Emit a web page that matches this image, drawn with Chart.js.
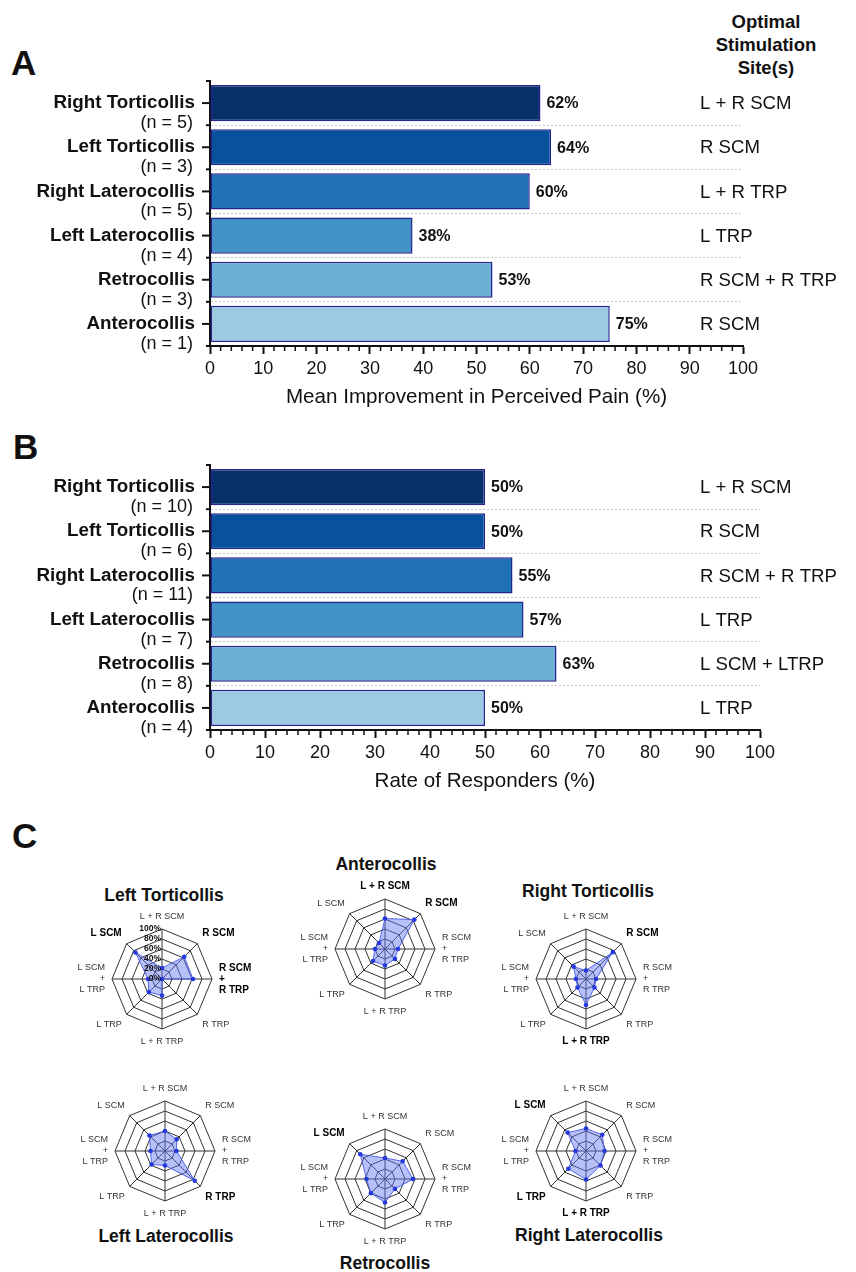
<!DOCTYPE html>
<html>
<head>
<meta charset="utf-8">
<script src="https://cdn.jsdelivr.net/npm/chart.js@4.4.0/dist/chart.umd.min.js"></script>
<style>
  body { margin: 0; background: #fff; font-family: "Liberation Sans", Arial, sans-serif; }
  #page { position: relative; width: 856px; height: 1272px; overflow: hidden; background: #fff; color: #111; }
  .abs { position: absolute; }
  .panel { font-weight: bold; font-size: 35px; line-height: 35px; }
  .head { font-weight: bold; font-size: 18.5px; line-height: 23px; text-align: center; width: 200px; }
  .rtitle { font-weight: bold; font-size: 17.5px; white-space: nowrap; transform: translate(-50%, -50%); }
</style>
</head>
<body>
<div id="page">
  <div class="abs panel" style="left:11px;top:45px">A</div>
  <div class="abs panel" style="left:13px;top:429px">B</div>
  <div class="abs panel" style="left:12px;top:818px">C</div>
  <div class="abs head" style="left:666px;top:10px">Optimal<br>Stimulation<br>Site(s)</div>
  <canvas id="painChart" class="abs" width="856" height="420" style="left:0;top:0"></canvas>
  <canvas id="respChart" class="abs" width="856" height="420" style="left:0;top:384px"></canvas>
</div>
<script>
// ---- data ----
const groupNames = ['Right Torticollis', 'Left Torticollis', 'Right Laterocollis', 'Left Laterocollis', 'Retrocollis', 'Anterocollis'];
const painN = [5, 3, 5, 4, 3, 1];
const painValues = [62, 64, 60, 38, 53, 75];
const painSites = ['L + R SCM', 'R SCM', 'L + R TRP', 'L TRP', 'R SCM + R TRP', 'R SCM'];
const respN = [10, 6, 11, 7, 8, 4];
const respValues = [50, 50, 55, 57, 63, 50];
const respSites = ['L + R SCM', 'R SCM', 'R SCM + R TRP', 'L TRP', 'L SCM + LTRP', 'L TRP'];
const barColors = ['#08306b', '#08519c', '#2171b5', '#4292c6', '#6baed6', '#9ecae1'];
const xMajorStep = 10;
const xMinorStep = 2;

// radar axes, clockwise from the top
const siteAxes = ['L + R SCM', 'R SCM', ['R SCM', '+', 'R TRP'], 'R TRP', 'L + R TRP', 'L TRP', ['L SCM', '+', 'L TRP'], 'L SCM'];
const radarTicks = [0, 20, 40, 60, 80, 100];
const leftTortValues = [22, 63, 62, 0, 33, 37, 28, 75];
const anteroValues = [61, 83, 26, 28, 33, 34, 20, 17];
const rightTortValues = [17, 76, 20, 24, 52, 24, 20, 35];
const leftLateroValues = [40, 33, 23, 84, 29, 38, 29, 44];
const retroValues = [42, 50, 56, 28, 47, 40, 37, 70];
const rightLateroValues = [45, 46, 37, 41, 57, 50, 21, 52];
// which axis labels are printed in bold
const leftTortBold = [1, 2, 7];
const anteroBold = [0, 1];
const rightTortBold = [1, 4];
const leftLateroBold = [3];
const retroBold = [7];
const rightLateroBold = [4, 5, 7];

const FONT = '"Liberation Sans", Arial, sans-serif';
Chart.defaults.font.family = FONT;
Chart.defaults.color = '#111';

function makeBarChart(id, values, ns, sites, axisTitle, rightPad) {
  const decor = {
    id: 'decor_' + id,
    afterDatasetsDraw(chart) {
      const { ctx, scales: { x, y } } = chart;
      const half = (y.getPixelForValue(1) - y.getPixelForValue(0)) / 2;
      const axisX = x.left;
      ctx.save();
      ctx.strokeStyle = '#111';
      ctx.fillStyle = '#111';
      ctx.lineWidth = 2;
      // value labels next to bars
      ctx.font = 'bold 16px ' + FONT;
      ctx.textBaseline = 'middle';
      ctx.textAlign = 'left';
      chart.getDatasetMeta(0).data.forEach((bar, i) => {
        ctx.fillText(values[i] + '%', bar.x + 6, bar.y + 1);
      });
      groupNames.forEach((name, i) => {
        const yc = y.getPixelForValue(i);
        // major tick at band centre
        ctx.beginPath();
        ctx.moveTo(axisX - 8, yc);
        ctx.lineTo(axisX, yc);
        ctx.stroke();
        ctx.textAlign = 'right';
        ctx.font = 'bold 18.8px ' + FONT;
        ctx.fillText(name, axisX - 15, yc);
        ctx.font = '18px ' + FONT;
        ctx.fillText('(n = ' + ns[i] + ')', axisX - 17, yc + 20);
        ctx.textAlign = 'left';
        ctx.font = '18.6px ' + FONT;
        ctx.fillText(sites[i], 700, yc + 1);
      });
      // minor ticks at band edges
      for (let i = 0; i <= groupNames.length; i++) {
        const yb = y.getPixelForValue(0) - half + 2 * half * i;
        ctx.beginPath();
        ctx.moveTo(axisX - 4, yb);
        ctx.lineTo(axisX, yb);
        ctx.stroke();
      }
      // minor ticks on x axis
      ctx.lineWidth = 1.5;
      for (let v = 0; v <= 100; v += xMinorStep) {
        if (v % xMajorStep === 0) continue;
        const px = x.getPixelForValue(v);
        ctx.beginPath();
        ctx.moveTo(px, x.top);
        ctx.lineTo(px, x.top + 5);
        ctx.stroke();
      }
      ctx.restore();
    }
  };

  return new Chart(document.getElementById(id), {
    type: 'bar',
    data: {
      labels: groupNames,
      datasets: [{
        data: values,
        backgroundColor: barColors,
        borderColor: '#24248e',
        borderWidth: 1.5,
        borderSkipped: false,
        barPercentage: 0.82,
        categoryPercentage: 1
      }]
    },
    options: {
      indexAxis: 'y',
      responsive: false,
      animation: false,
      layout: { padding: { left: 210, right: rightPad, top: 81, bottom: 10 } },
      plugins: { legend: { display: false }, tooltip: { enabled: false } },
      scales: {
        x: {
          min: 0,
          max: 100,
          ticks: { stepSize: xMajorStep, padding: 4, color: '#111', font: { size: 18 } },
          grid: { display: true, drawOnChartArea: false, drawTicks: true, tickLength: 8, tickColor: '#111', tickWidth: 2 },
          border: { display: true, color: '#111', width: 2 },
          title: { display: true, text: axisTitle, color: '#111', font: { size: 20.6 }, padding: { top: 4, bottom: 0 } },
          afterFit: (s) => { s.height = 64; }
        },
        y: {
          ticks: { display: false },
          grid: {
            drawTicks: false,
            color: (c) => (c.index === 0 ? 'rgba(0,0,0,0)' : '#c9c9c9'),
            lineWidth: 1
          },
          border: { display: true, color: '#111', width: 2, dash: [2, 2] },
          afterFit: (s) => { s.width = 0; }
        }
      }
    },
    plugins: [decor]
  });
}

makeBarChart('painChart', painValues, painN, painSites, 'Mean Improvement in Perceived Pain (%)', 113);
makeBarChart('respChart', respValues, respN, respSites, 'Rate of Responders (%)', 96);

// ---- radar panels ----
const RADAR_W = 200;
const RADAR_H = 136;
const page = document.getElementById('page');

const radars = [
  { title: 'Left Torticollis', values: leftTortValues, bold: leftTortBold, cx: 165, cy: 979, tx: 164, ty: 895, ticks: true },
  { title: 'Anterocollis', values: anteroValues, bold: anteroBold, cx: 386, cy: 949, tx: 386, ty: 864 },
  { title: 'Right Torticollis', values: rightTortValues, bold: rightTortBold, cx: 587, cy: 979, tx: 588, ty: 891 },
  { title: 'Left Laterocollis', values: leftLateroValues, bold: leftLateroBold, cx: 166, cy: 1151, tx: 166, ty: 1236 },
  { title: 'Retrocollis', values: retroValues, bold: retroBold, cx: 386, cy: 1179, tx: 385, ty: 1263 },
  { title: 'Right Laterocollis', values: rightLateroValues, bold: rightLateroBold, cx: 587, cy: 1151, tx: 589, ty: 1235 }
];

const radarTickLabels = {
  id: 'radarTickLabels',
  afterDatasetsDraw(chart) {
    const s = chart.scales.r;
    const ctx = chart.ctx;
    ctx.save();
    ctx.font = 'bold 8.5px ' + FONT;
    ctx.fillStyle = '#111';
    ctx.textAlign = 'right';
    ctx.textBaseline = 'middle';
    radarTicks.forEach((v) => {
      ctx.fillText(v + '%', s.xCenter - 1, s.yCenter - s.getDistanceFromCenterForValue(v));
    });
    ctx.restore();
  }
};

radars.forEach((r) => {
  const c = document.createElement('canvas');
  c.width = RADAR_W;
  c.height = RADAR_H;
  c.className = 'abs';
  c.style.left = (r.cx - RADAR_W / 2) + 'px';
  c.style.top = (r.cy - RADAR_H / 2) + 'px';
  page.appendChild(c);

  const t = document.createElement('div');
  t.className = 'abs rtitle';
  t.style.left = r.tx + 'px';
  t.style.top = r.ty + 'px';
  t.textContent = r.title;
  page.appendChild(t);

  new Chart(c, {
    type: 'radar',
    data: {
      labels: siteAxes,
      datasets: [{
        data: r.values,
        backgroundColor: 'rgba(96, 116, 240, 0.45)',
        borderColor: 'rgba(70, 90, 235, 0.9)',
        borderWidth: 1,
        pointRadius: 2.3,
        pointBackgroundColor: '#2438dc',
        pointBorderWidth: 0
      }]
    },
    options: {
      responsive: false,
      animation: false,
      plugins: { legend: { display: false }, tooltip: { enabled: false } },
      scales: {
        r: {
          min: 0,
          max: 100,
          ticks: { stepSize: 20, display: false },
          grid: { color: '#333', lineWidth: 1 },
          angleLines: { color: '#333', lineWidth: 1 },
          pointLabels: {
            padding: 7,
            color: (ctx) => (r.bold.includes(ctx.index) ? '#000' : '#333'),
            font: (ctx) => ({
              size: r.bold.includes(ctx.index) ? 10 : 9,
              weight: r.bold.includes(ctx.index) ? 'bold' : 'normal',
              lineHeight: '11px'
            })
          }
        }
      }
    },
    plugins: r.ticks ? [radarTickLabels] : []
  });
});
</script>
</body>
</html>
